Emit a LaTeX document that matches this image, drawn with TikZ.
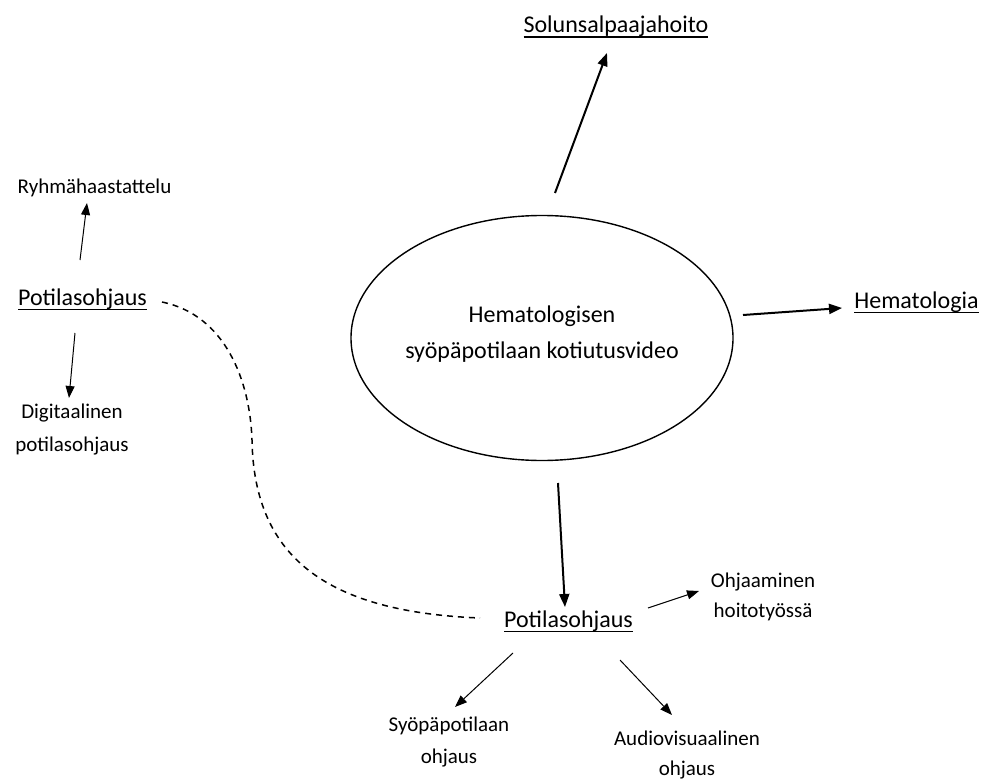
\documentclass[tikz,border=0pt]{standalone}
\usepackage{fontspec}
\setmainfont{Carlito}
\usetikzlibrary{shapes.geometric,arrows.meta}
\newsavebox\ulbox
\newcommand\ulin[1]{\sbox\ulbox{#1}\rlap{\rule[-5pt]{\wd\ulbox}{1.5pt}}\usebox\ulbox}
\tikzset{
  big/.style={font=\fontsize{24}{29}\selectfont, inner sep=0pt, anchor=base},
  small/.style={font=\fontsize{21}{33}\selectfont, inner sep=0pt, anchor=base, align=center},
  thickarr/.style={line width=2pt, -{Triangle[length=13pt,width=10pt]}},
  thinarr/.style={line width=1pt, -{Triangle[length=12pt,width=9pt]}},
  dasharr/.style={line width=1.5pt, dash pattern=on 6pt off 5pt},
}
\begin{document}
\begin{tikzpicture}[x=1pt,y=-1pt]
\useasboundingbox (0,0) rectangle (990,781);
% central ellipse
\node[draw, ellipse, line width=1.4pt, minimum width=382pt, minimum height=245pt, inner sep=0pt] (ell) at (542,338) {};
\node[font=\fontsize{24}{36}\selectfont, align=center, inner sep=0pt, anchor=base] (elltext) at (542,358) {Hematologisen\\syöpäpotilaan kotiutusvideo};
% main nodes
\node[big] (sol) at (616,33) {\ulin{Solunsalpaajahoito}};
\node[big] (hem) at (916.5,308) {\ulin{Hematologia}};
\node[big] (potL) at (82.5,305) {\ulin{Potilasohjaus}};
\node[big] (potB) at (568.5,627) {\ulin{Potilasohjaus}};
% small nodes (base = last line)
\node[small] (ryh) at (94.5,193) {Ryhmähaastattelu};
\node[small, font=\fontsize{21}{33}\selectfont] (dig) at (72,451) {Digitaalinen\\potilasohjaus};
\node[small, font=\fontsize{21}{30}\selectfont] (ohj) at (763,617) {Ohjaaminen\\hoitotyössä};
\node[small, font=\fontsize{21}{32}\selectfont] (syo) at (449,763) {Syöpäpotilaan\\ohjaus};
\node[small, font=\fontsize{21}{30}\selectfont] (aud) at (687,775) {Audiovisuaalinen\\ohjaus};
% connectors
\draw[thickarr] ([shift={(13,-145)}]ell.center) -- ([shift={(-9,20)}]sol.base);
\draw[thickarr] ([shift={(201,-23)}]ell.center) -- ([shift={(-74.5,0)}]hem.base);
\draw[thickarr] ([shift={(16,145)}]ell.center) -- ([shift={(-3.5,-20)}]potB.base);
\draw[thinarr] ([shift={(-2.5,-45)}]potL.base) -- ([shift={(-7.5,10)}]ryh.base);
\draw[thinarr] ([shift={(-7.5,28)}]potL.base) -- ([shift={(-3,-53)}]dig.base);
\draw[thinarr] ([shift={(79.5,-19)}]potB.base) -- ([shift={(-64,-26)}]ohj.base);
\draw[thinarr] ([shift={(-55.5,26)}]potB.base) -- ([shift={(6,-56)}]syo.base);
\draw[thinarr] ([shift={(51.5,33)}]potB.base) -- ([shift={(-15,-60)}]aud.base);
\draw[dasharr] ([shift={(79.5,-3)}]potL.base) .. controls (225,315) and (250,380) .. (252,440)
  .. controls (254,560) and (330,612) .. ([shift={(-88.5,-9)}]potB.base);
\end{tikzpicture}
\end{document}
